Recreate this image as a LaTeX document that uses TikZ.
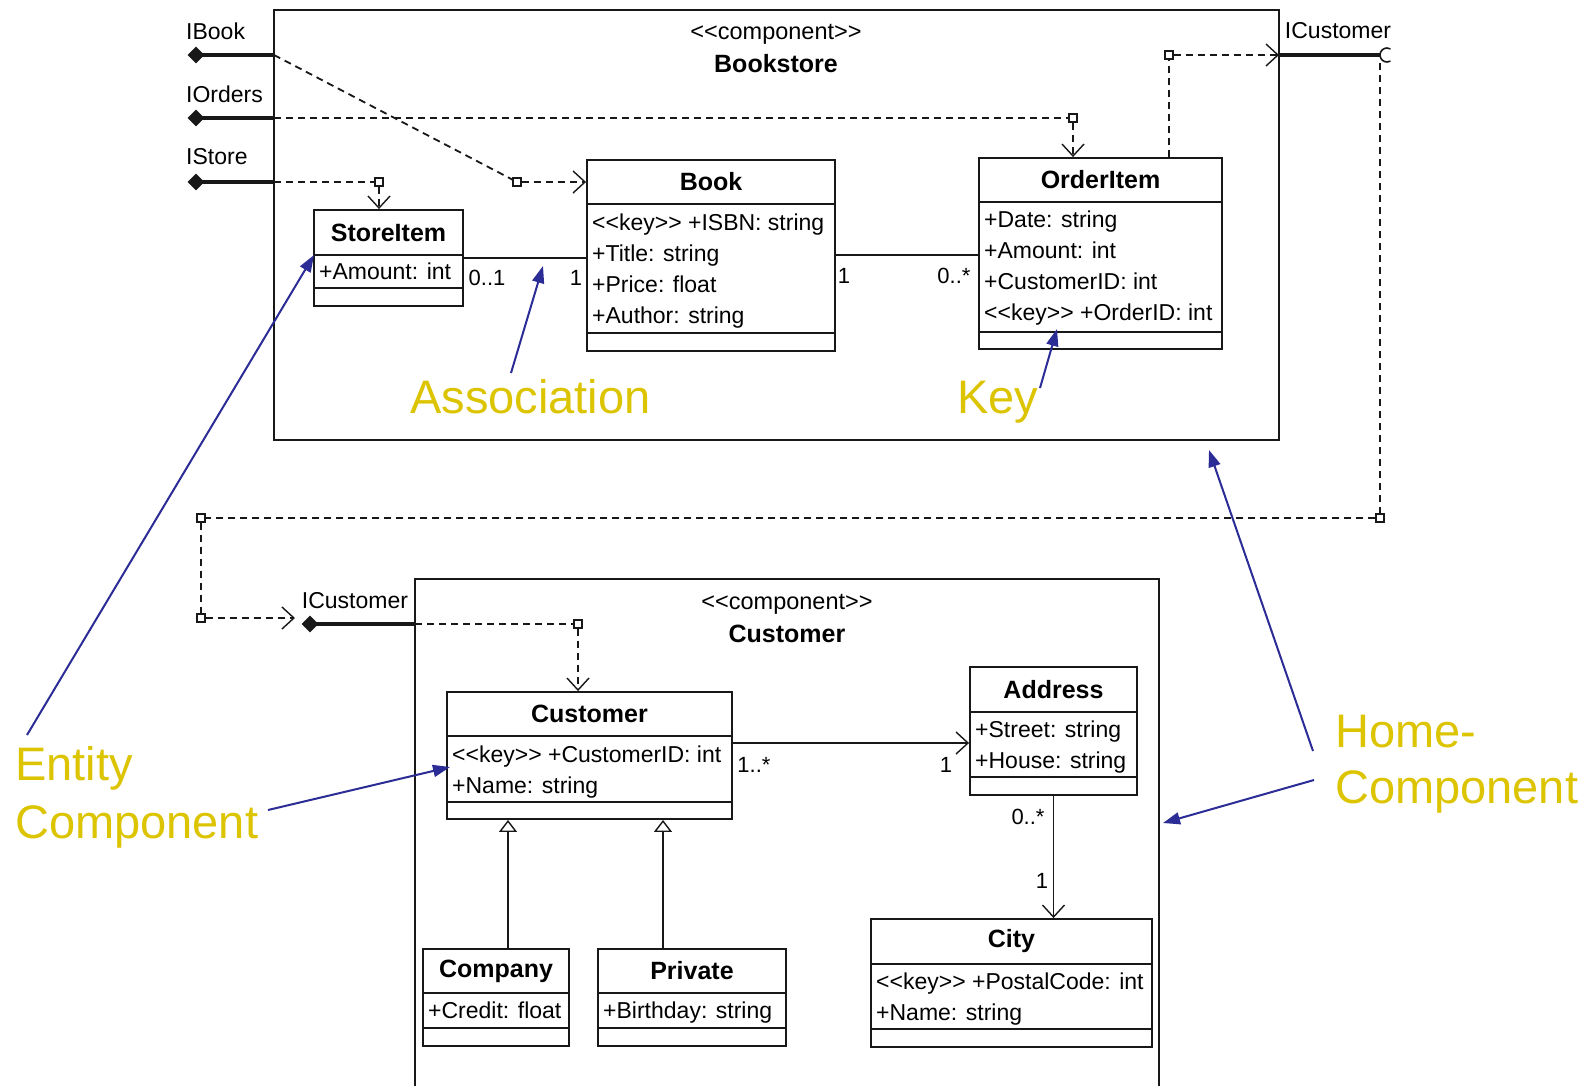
\documentclass[tikz,border=0pt]{standalone}
\usepackage{fontspec}
\setmainfont{Liberation Sans}
\newfontfamily\umlfont{Liberation Sans}
\usetikzlibrary{arrows.meta,shapes.geometric}
\definecolor{calloutgold}{RGB}{220,196,0}
\definecolor{calloutblue}{RGB}{44,44,150}
\definecolor{ink}{RGB}{24,24,24}

% class box: name, left, top, right, bottom, header rule y, attribute rule y, title
\newcommand{\umlclass}[8]{%
  \node[classbox, minimum width={(#4)-(#2)}, minimum height={(#5)-(#3)}]
    (#1) at ({((#2)+(#4))/2},{((#3)+(#5))/2}) {};
  \draw[classrule] (#2,#6) -- (#4,#6) (#2,#7) -- (#4,#7);
  \node[classtitle] (#1-title) at ({((#2)+(#4))/2},{((#3)+(#6))/2}) {#8};
}
% attribute rows: name, left, centre y of first row, list of rows
\newcommand{\umlattrs}[4]{%
  \foreach \attr [count=\k from 0] in {#4}
    \node[attrtext] (#1-attr\k) at (#2+5,#3+31*\k) {\attr};
}

\begin{document}
\begin{tikzpicture}[x=1pt,y=-1pt,
  frame/.style={draw=ink, line width=2.6pt, rectangle, inner sep=0pt},
  classbox/.style={draw=ink, line width=1.9pt, rectangle, inner sep=0pt, fill=white},
  classrule/.style={draw=ink, line width=1.9pt},
  classtitle/.style={font=\umlfont\bfseries\fontsize{25}{30}\selectfont, inner sep=0pt},
  attrtext/.style={font=\umlfont\fontsize{23}{28}\selectfont, anchor=west, inner sep=0pt,
    text height=17pt, text depth=5pt},
  stereo/.style={font=\umlfont\fontsize{23.5}{28}\selectfont, inner sep=0pt},
  ifacelabel/.style={font=\umlfont\fontsize{23}{28}\selectfont, inner sep=0pt},
  mult/.style={font=\umlfont\fontsize{22}{26}\selectfont, inner sep=0pt},
  callout/.style={font=\umlfont\fontsize{47}{56}\selectfont, text=calloutgold,
    inner sep=0pt, anchor=base west},
  pointer/.style={draw=calloutblue, line width=2pt, -{Triangle[length=17pt,width=12pt]}},
  iface/.style={draw=ink, line width=4pt},
  provided/.style={diamond, fill=ink, minimum width=17pt, minimum height=17pt, inner sep=0pt},
  dep/.style={draw=ink, line width=1.8pt, dash pattern=on 7pt off 5pt},
  opentip/.style={-{Straight Barb[length=12pt,width=22pt,line width=1.4pt]}},
  bendsq/.style={draw=ink, fill=white, line width=1.4pt, minimum size=8pt, inner sep=0pt, rectangle},
  assoc/.style={draw=ink, line width=1.9pt},
  gentip/.style={-{Triangle[open,length=12pt,width=18pt,line width=1.4pt]}}
]
\useasboundingbox[fill=white] (0,0) rectangle (1596,1085);
\clip (0,0) rectangle (1596,1085);

% ---------- component frames ----------
\node[frame, minimum width=1005pt, minimum height=430pt] (bookstore) at (776.5,225) {};
\node[stereo] (bookstore-stereo) at (776,34) {<<component>>};
\node[classtitle] (bookstore-name) at (776,64) {Bookstore};

\node[frame, minimum width=744pt, minimum height=541pt] (custcomp) at (787,849.5) {};
\node[stereo] (custcomp-stereo) at (787,604) {<<component>>};
\node[classtitle] (custcomp-name) at (787,634) {Customer};

% ---------- Bookstore classes ----------
\umlclass{storeitem}{314}{210}{463}{306}{255}{288}{StoreItem}
\umlattrs{storeitem}{314}{273}{{+Amount: int}}

\umlclass{book}{587}{160}{835}{351}{204}{333}{Book}
\umlattrs{book}{587}{224}{{<<key>> +ISBN: string},{+Title: string},{+Price: float},{+Author: string}}

\umlclass{orderitem}{979}{158}{1222}{349}{202}{332}{OrderItem}
\umlattrs{orderitem}{979}{221}{{+Date: string},{+Amount: int},{+CustomerID: int},{<<key>> +OrderID: int}}

% ---------- Customer classes ----------
\umlclass{customer}{447}{692}{732}{819}{736}{802}{Customer}
\umlattrs{customer}{447}{756}{{<<key>> +CustomerID: int},{+Name: string}}

\umlclass{address}{970}{667}{1137}{795}{712}{777}{Address}
\umlattrs{address}{970}{731}{{+Street: string},{+House: string}}

\umlclass{city}{871}{919}{1152}{1047}{964}{1029}{City}
\umlattrs{city}{871}{983}{{<<key>> +PostalCode: int},{+Name: string}}

\umlclass{company}{423}{949}{569}{1046}{993}{1028}{Company}
\umlattrs{company}{423}{1012}{{+Credit: float}}

\umlclass{private}{598}{949}{786}{1046}{993}{1028}{Private}
\umlattrs{private}{598}{1012}{{+Birthday: string}}

% ---------- associations ----------
\draw[assoc] (storeitem.east) -- (book.west |- storeitem.east);
\node[mult] (m-si) at (487,278) {0..1};
\node[mult] (m-bk1) at (576,278) {1};
\coordinate (bookport) at ([yshift=0.5pt]book.east);
\draw[assoc] (bookport) -- (orderitem.west |- bookport);
\node[mult] (m-bk2) at (844,276) {1};
\node[mult] (m-oi) at (954,276) {0..*};

\coordinate (custport) at ([yshift=12.5pt]customer.east);
\draw[assoc,opentip] (custport) -- (address.west |- custport);
\node[mult] (m-cu) at (754,765) {1..*};
\node[mult] (m-ad1) at (946,765) {1};
\draw[assoc,opentip] (address.south) -- (city.north -| address.south);
\node[mult] (m-ad2) at (1028,817) {0..*};
\node[mult] (m-ct) at (1042,881) {1};

% generalizations
\coordinate (genCompany) at (508,949);
\coordinate (genPrivate) at (663,949);
\draw[assoc,gentip] (genCompany) -- (genCompany |- customer.south);
\draw[assoc,gentip] (genPrivate) -- (genPrivate |- customer.south);

% ---------- provided interfaces of Bookstore ----------
\node[provided] (ibook) at (196,55) {};
\node[provided] (iorders) at (196,118) {};
\node[provided] (istore) at (196,182) {};
\coordinate (ibookport) at (274,55);
\coordinate (iordersport) at (274,118);
\coordinate (istoreport) at (274,182);
\draw[iface] (ibook.center) -- (ibookport);
\draw[iface] (iorders.center) -- (iordersport);
\draw[iface] (istore.center) -- (istoreport);
\node[ifacelabel, anchor=west] (ibook-lbl) at (186,31) {IBook};
\node[ifacelabel, anchor=west] (iorders-lbl) at (186,94) {IOrders};
\node[ifacelabel, anchor=west] (istore-lbl) at (186,157) {IStore};

% delegations inside Bookstore
\node[bendsq] (sqStore) at (379,182) {};
\draw[dep] (istoreport) -- (sqStore);
\draw[dep,opentip] (sqStore) -- (sqStore |- storeitem.north);

\node[bendsq] (sqBook) at (517,182) {};
\draw[dep] (ibookport) -- (sqBook);
\draw[dep,opentip] (sqBook) -- (book.west |- sqBook);

\node[bendsq] (sqOrders) at (1073,118) {};
\draw[dep] (iordersport) -- (sqOrders);
\draw[dep,opentip] (sqOrders) -- (sqOrders |- orderitem.north);

% ---------- required interface ICustomer ----------
\coordinate (icustport) at (1279,55);
\coordinate (socket) at (1380,55);
\draw[iface] (icustport) -- (socket);
\draw[draw=ink, line width=1.6pt] (socket) arc[start angle=180, end angle=60, radius=7pt];
\draw[draw=ink, line width=1.6pt] (socket) arc[start angle=180, end angle=300, radius=7pt];
\node[ifacelabel] (icust-lbl) at (1338,31) {ICustomer};

\node[bendsq] (sqOI) at (1169,55) {};
\draw[dep] (orderitem.north -| sqOI) -- (sqOI);
\draw[dep,opentip] (sqOI) -- (icustport);

% ---------- provided interface ICustomer of Customer ----------
\node[provided] (icust2) at (310,624) {};
\coordinate (icust2port) at (415,624);
\draw[iface] (icust2.center) -- (icust2port);
\node[ifacelabel] (icust2-lbl) at (355,601) {ICustomer};

\node[bendsq] (sqCust) at (578,624) {};
\draw[dep] (icust2port) -- (sqCust);
\draw[dep,opentip] (sqCust) -- (sqCust |- customer.north);

% wiring from the required to the provided interface
\coordinate (socketfoot) at (1380,63);
\coordinate (icust2tip) at (295,618);
\node[bendsq] (sqR) at (1380,518) {};
\node[bendsq] (sqL) at (201,518) {};
\node[bendsq] (sqL2) at (201,618) {};
\draw[dep] (socketfoot) -- (sqR);
\draw[dep] (sqR) -- (sqL);
\draw[dep] (sqL) -- (sqL2);
\draw[dep,opentip] (sqL2) -- (icust2tip);

% ---------- callouts ----------
\node[callout] (lblEntity) at (15,780) {Entity};
\node[callout] (lblEntityComp) at (15,838) {Component};
\node[callout] (lblAssoc) at (410,413) {Association};
\node[callout] (lblKey) at (957,413) {Key};
\node[callout] (lblHome) at (1335,747) {Home-};
\node[callout] (lblHomeComp) at (1335,803) {Component};

\coordinate (tailEntityA) at (27,735);
\coordinate (tailEntityB) at (268,810);
\coordinate (tailAssoc) at (511,373);
\coordinate (tailKey) at (1040,388);
\coordinate (tailHomeA) at (1313,751);
\coordinate (tailHomeB) at (1314,780);
\coordinate (tipStoreItem) at (314,255);
\coordinate (tipCustomer) at (450,767);
\coordinate (tipAssoc) at (543,266);
\coordinate (tipKey) at (1057,329);
\coordinate (tipBookstore) at (1209,450);
\coordinate (tipCustComp) at (1163,823);

\draw[pointer] (tailEntityA) -- (tipStoreItem);
\draw[pointer] (tailEntityB) -- (tipCustomer);
\draw[pointer] (tailAssoc) -- (tipAssoc);
\draw[pointer] (tailKey) -- (tipKey);
\draw[pointer] (tailHomeA) -- (tipBookstore);
\draw[pointer] (tailHomeB) -- (tipCustComp);
\end{tikzpicture}
\end{document}
